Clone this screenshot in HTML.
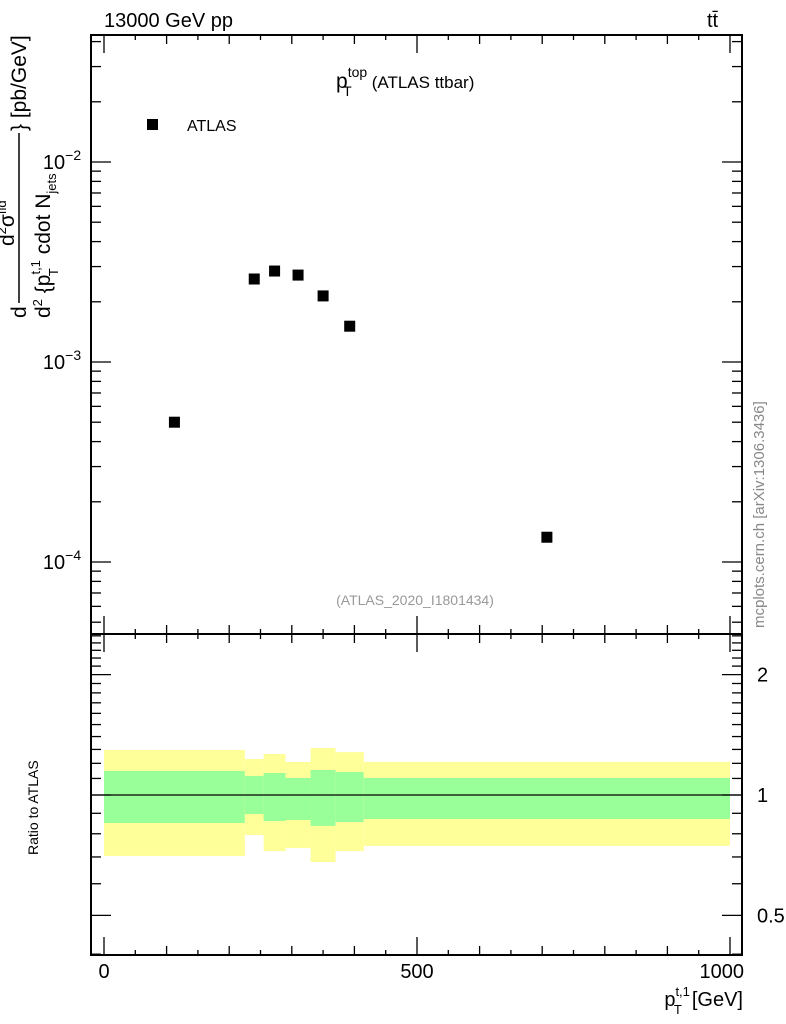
<!DOCTYPE html>
<html><head><meta charset="utf-8"><style>
body{margin:0;background:#fff;}
svg{display:block;font-family:"Liberation Sans",sans-serif;}
</style></head><body>
<svg id="c" width="786" height="1024" viewBox="0 0 786 1024">
<text x="104" y="27" font-size="20">13000 GeV pp</text>
<text x="707" y="27" font-size="20">tt̄</text>
<text x="336" y="88" font-size="21">p<tspan font-size="14" dy="-11">top</tspan><tspan font-size="14" dx="-24" dy="19">T</tspan><tspan font-size="17" dx="20" dy="-8">(ATLAS ttbar)</tspan></text>
<rect x="147" y="119" width="11" height="11" fill="#000"/>
<text x="187" y="131" font-size="16">ATLAS</text>
<text x="415" y="605" font-size="14" fill="#999" text-anchor="middle">(ATLAS_2020_I1801434)</text>
<text transform="translate(764,628) rotate(-90)" font-size="15" fill="#888">mcplots.cern.ch [arXiv:1306.3436]</text>
<g transform="translate(26,318) rotate(-90)" font-size="21">
<text x="0" y="0">d</text>
<line x1="15" y1="-7" x2="185" y2="-7" stroke="#000" stroke-width="1.5"/>
<text x="0" y="24">d<tspan font-size="13" dy="-8">2</tspan><tspan dy="8"> {p</tspan><tspan font-size="13" dy="-10">t,1</tspan><tspan font-size="13" dx="-16" dy="18">T</tspan><tspan dx="8" dy="-8"> cdot N</tspan><tspan font-size="13" dy="6">jets</tspan></text>
<text x="72" y="-12">d<tspan font-size="13" dy="-8">2</tspan><tspan dy="8">σ</tspan><tspan font-size="13" dy="-8">fid</tspan></text>
<text x="187" y="0">} [pb/GeV]</text>
</g>
<text transform="translate(38,855) rotate(-90)" font-size="14">Ratio to ATLAS</text>
<text x="743" y="1006" font-size="20" text-anchor="end">p<tspan font-size="13" dy="-10">t,1</tspan><tspan font-size="13" dx="-16" dy="18">T</tspan><tspan dx="10" dy="-8">[GeV]</tspan></text>
<g id="g"></g>
</svg>
<script>
const binEdges=[0,225,255,290,330,370,415,1000];
const xsec=[5.0e-4,2.6e-3,2.85e-3,2.72e-3,2.14e-3,1.51e-3,1.33e-4];
const greenUp=[1.148,1.116,1.135,1.103,1.155,1.142,1.103];
const greenLo=[0.851,0.896,0.861,0.866,0.837,0.856,0.871];
const yellowUp=[1.296,1.23,1.266,1.209,1.31,1.28,1.21];
const yellowLo=[0.704,0.794,0.724,0.737,0.68,0.724,0.746];
const xTicks=[0,500,1000];
const yDecades=[-4,-3,-2];
const rTicks=[0.5,1,2];
const NS="http://www.w3.org/2000/svg";
const g=document.getElementById('g');
const L=91,R=742,T=35,M=634,B=955;
const X=v=>104+v*0.626;
const Y=v=>162-(Math.log10(v)+2)*200;
const RY=v=>795-Math.log10(v)*400;
function mk(t,a){const e=document.createElementNS(NS,t);for(const k in a)e.setAttribute(k,a[k]);g.appendChild(e);return e;}
for(let i=0;i<xsec.length;i++){
 const x0=X(binEdges[i]),x1=X(binEdges[i+1]);
 let e=mk('rect',{x:x0,y:RY(yellowUp[i]),width:x1-x0,height:RY(yellowLo[i])-RY(yellowUp[i]),fill:'#ffff99'});
 
 
 e=mk('rect',{x:x0,y:RY(greenUp[i]),width:x1-x0,height:RY(greenLo[i])-RY(greenUp[i]),fill:'#99ff99'});
 
 
}
let ln=mk('line',{x1:L,x2:R,y1:RY(1),y2:RY(1),stroke:'#000','stroke-width':1.2});


for(let i=0;i<xsec.length;i++){
 const cx=X((binEdges[i]+binEdges[i+1])/2),cy=Y(xsec[i]);
 const p=mk('rect',{x:cx-5.5,y:cy-5.5,width:11,height:11,fill:'#000'});
 
 
}
let f=mk('rect',{x:L,y:T,width:R-L,height:M-T,fill:'none',stroke:'#000','stroke-width':2});


f=mk('rect',{x:L,y:M,width:R-L,height:B-M,fill:'none',stroke:'#000','stroke-width':2});


function tick(x1,y1,x2,y2){mk('line',{x1,y1,x2,y2,stroke:'#000','stroke-width':1.3});}
for(let d=-5;d<=-1;d++)for(let m=1;m<10;m++){
 const v=m*Math.pow(10,d),y=Y(v);if(y<T||y>M)continue;
 const len=m==1?20:10;tick(L,y,L+len,y);tick(R,y,R-len,y);
}
yDecades.forEach(d=>{const t=mk('text',{x:62,y:Y(Math.pow(10,d))+7,'font-size':20,'text-anchor':'middle'});
 t.innerHTML='10<tspan font-size="14" dy="-9">−'+(-d)+'</tspan>';
 
 });
for(let k=4;k<=25;k++){
 const vv=k/10,y=RY(vv);if(y<M||y>B)continue;
 const len=(k==5||k==10||k==20)?20:10;tick(L,y,L+len,y);tick(R,y,R-len,y);
}
rTicks.forEach(v=>{const t=mk('text',{x:757,y:RY(v)+7,'font-size':20});t.textContent=String(v);
 
 });
for(let v=0;v<=1000;v+=50){const x=X(v);const len=v%500==0?18:(v%100==0?9:5);
 tick(x,B,x,B-len);tick(x,T,x,T+len);tick(x,M,x,M-len);tick(x,M,x,M+len);}
xTicks.forEach(v=>{const t=mk('text',{x:X(v),y:978,'font-size':20,'text-anchor':v==1000?'end':'middle'});
 if(v==1000)t.setAttribute('x',X(v)+14);
 t.textContent=String(v);
 
 });
</script>
</body></html>
